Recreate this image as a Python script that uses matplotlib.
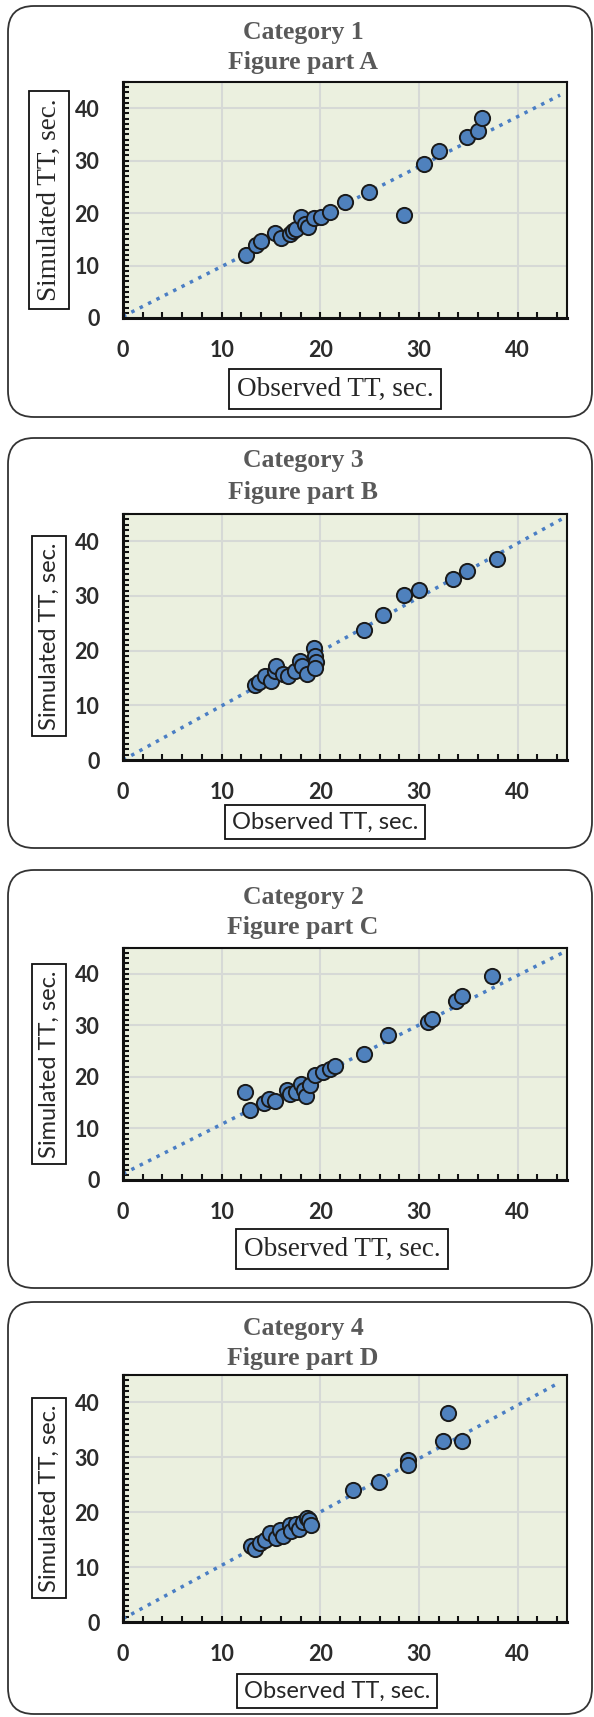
import matplotlib

matplotlib.use("Agg")
import matplotlib.pyplot as plt
from matplotlib.patches import FancyBboxPatch
from matplotlib.ticker import MultipleLocator

# ---- data ------------------------------------------------------------------
titles = [
    ("Category 1", "Figure part A"),
    ("Category 3", "Figure part B"),
    ("Category 2", "Figure part C"),
    ("Category 4", "Figure part D"),
]

obs_a = [12.5, 13.5, 14.0, 15.4, 16.0, 16.9, 17.2, 17.5, 18.0, 18.4, 18.8,
         19.4, 20.1, 21.0, 22.5, 24.9, 28.5, 30.5, 32.0, 34.9, 36.0, 36.4]
sim_a = [12.0, 14.0, 14.6, 16.2, 15.2, 16.0, 16.6, 16.9, 19.3, 17.9, 17.3,
         19.0, 19.3, 20.2, 22.1, 24.1, 19.6, 29.3, 31.9, 34.6, 35.7, 38.2]
trend_x_a = [0, 44.3]
trend_y_a = [0.3, 42.5]

obs_b = [13.4, 13.8, 14.4, 15.0, 15.4, 15.5, 16.2, 16.7, 17.4, 17.9, 18.1,
         18.6, 19.4, 19.5, 19.6, 19.5, 24.4, 26.4, 28.5, 30.0, 33.4, 34.9, 37.9]
sim_b = [13.8, 14.2, 15.3, 14.5, 16.3, 17.2, 15.7, 15.4, 16.2, 18.2, 17.2,
         15.8, 20.5, 19.1, 17.9, 16.9, 23.8, 26.6, 30.1, 31.1, 33.2, 34.6, 36.7]
trend_x_b = [0, 45.0]
trend_y_b = [0.0, 44.6]

obs_c = [12.4, 12.9, 14.3, 14.8, 15.4, 16.6, 16.9, 17.5, 18.0, 18.3, 18.5,
         19.0, 19.5, 20.3, 21.0, 21.5, 24.4, 26.9, 30.9, 31.3, 33.8, 34.4, 37.4]
sim_c = [17.1, 13.5, 15.0, 15.8, 15.4, 17.4, 16.6, 17.0, 18.7, 17.4, 16.2,
         18.4, 20.3, 21.0, 21.5, 22.1, 24.4, 28.1, 30.6, 31.2, 34.8, 35.6, 39.6]
trend_x_c = [0, 45.0]
trend_y_c = [1.2, 44.5]

obs_d = [13.0, 13.4, 13.9, 14.4, 14.9, 15.5, 15.9, 16.2, 16.9, 17.0, 17.5,
         17.8, 18.2, 18.6, 18.9, 19.1, 23.3, 25.9, 28.9, 28.9, 32.4, 32.9, 34.4]
sim_d = [13.8, 13.3, 14.4, 15.0, 16.2, 15.3, 16.8, 15.6, 17.7, 16.5, 17.9,
         17.0, 18.3, 18.9, 18.6, 17.7, 24.1, 25.5, 29.6, 28.6, 33.0, 38.0, 32.9]
trend_x_d = [0, 44.1]
trend_y_d = [0.6, 43.5]

x_label = "Observed TT, sec."
y_label = "Simulated TT, sec."
axis_ticks = [0, 10, 20, 30, 40]

# ---- layout (pixels of the 594 x 1717 output) -----------------------------
FIG_W, FIG_H = 594, 1717
SERIF = "Liberation Serif"
SANS = "Lato"

panels = [
    dict(box=(6, 417), ax=(82, 318), title_y=(32, 63), ylab_y=200,
         xlab=(335, 389), yfont=SERIF, xfont=SERIF),
    dict(box=(438, 848), ax=(514, 760), title_y=(460, 492), ylab_y=636,
         xlab=(325, 822), yfont=SANS, xfont=SANS),
    dict(box=(870, 1288), ax=(948, 1180), title_y=(897, 927), ylab_y=1064,
         xlab=(342, 1249), yfont=SANS, xfont=SERIF),
    dict(box=(1302, 1714), ax=(1375, 1622), title_y=(1328, 1358), ylab_y=1498,
         xlab=(337, 1691), yfont=SANS, xfont=SANS),
]

series = [
    (obs_a, sim_a, trend_x_a, trend_y_a),
    (obs_b, sim_b, trend_x_b, trend_y_b),
    (obs_c, sim_c, trend_x_c, trend_y_c),
    (obs_d, sim_d, trend_x_d, trend_y_d),
]


def fx(px):
    return px / FIG_W


def fy(py):
    return 1 - py / FIG_H


def label_size(family):
    # the serif (Times-like) labels come out a little larger in the source
    return 19.5 if family == SERIF else 17


def draw_panel(fig, layout, title, data):
    obs, sim, tx, ty = data
    top, bottom = layout["box"]
    box = FancyBboxPatch(
        (8 / 100, (FIG_H - bottom) / 100), 584 / 100, (bottom - top) / 100,
        boxstyle="round,pad=0,rounding_size=0.26",
        transform=fig.dpi_scale_trans, fill=False, ec="#333333", lw=1.3,
    )
    fig.add_artist(box)

    ax_top, ax_bottom = layout["ax"]
    ax = fig.add_axes([fx(123), fy(ax_bottom), fx(444), (ax_bottom - ax_top) / FIG_H])
    ax.set_facecolor("#EBF0DF")
    ax.set_xlim(0, 45)
    ax.set_ylim(0, 45)
    ax.xaxis.set_minor_locator(MultipleLocator(2))
    ax.yaxis.set_minor_locator(MultipleLocator(1))
    ax.set_xticks(axis_ticks)
    ax.set_yticks(axis_ticks)
    ax.grid(True, which="major", color="#D6D9D6", lw=1.5, zorder=0)
    ax.set_axisbelow(True)
    ax.tick_params(which="both", direction="in", length=4, width=1.5,
                   color="#111111")
    ax.tick_params(axis="x", which="major", pad=16)
    ax.tick_params(axis="y", which="major", pad=17)
    for lab in ax.get_xticklabels() + ax.get_yticklabels():
        lab.set_fontfamily(SANS)
        lab.set_fontweight("bold")
        lab.set_fontsize(15.5)
        lab.set_color("#2B2B2B")
    for side, sp in ax.spines.items():
        sp.set_color("#111111")
        sp.set_linewidth(2.2 if side in ("left", "bottom") else 1.5)

    ax.plot(tx, ty, linestyle=(0, (1, 1.7)), lw=2.5, color="#4A7EC4", zorder=2)
    ax.scatter(obs, sim, s=120, facecolor="#4F81BD", edgecolor="#1A1A1A",
               linewidth=1.4, zorder=3)

    t1, t2 = layout["title_y"]
    for text, y in zip(title, (t1, t2)):
        fig.text(fx(303), fy(y), text, ha="center", va="center",
                 fontfamily=SERIF, fontweight="bold", fontsize=18.5,
                 color="#595959")

    fig.text(fx(49), fy(layout["ylab_y"]), y_label, rotation=90,
             ha="center", va="center", fontfamily=layout["yfont"],
             fontsize=label_size(layout["yfont"]), color="#262626",
             bbox=dict(boxstyle="square,pad=0.28", fc="white", ec="#111111",
                       lw=1.3))
    xl_x, xl_y = layout["xlab"]
    fig.text(fx(xl_x), fy(xl_y), x_label, ha="center", va="center",
             fontfamily=layout["xfont"], fontsize=label_size(layout["xfont"]),
             color="#262626",
             bbox=dict(boxstyle="square,pad=0.28", fc="white", ec="#111111",
                       lw=1.3))


def main() -> None:
    fig = plt.figure(figsize=(FIG_W / 100, FIG_H / 100), dpi=100)
    fig.patch.set_facecolor("white")
    for layout, title, data in zip(panels, titles, series):
        draw_panel(fig, layout, title, data)
    fig.savefig("out.png", dpi=100)


if __name__ == "__main__":
    main()
